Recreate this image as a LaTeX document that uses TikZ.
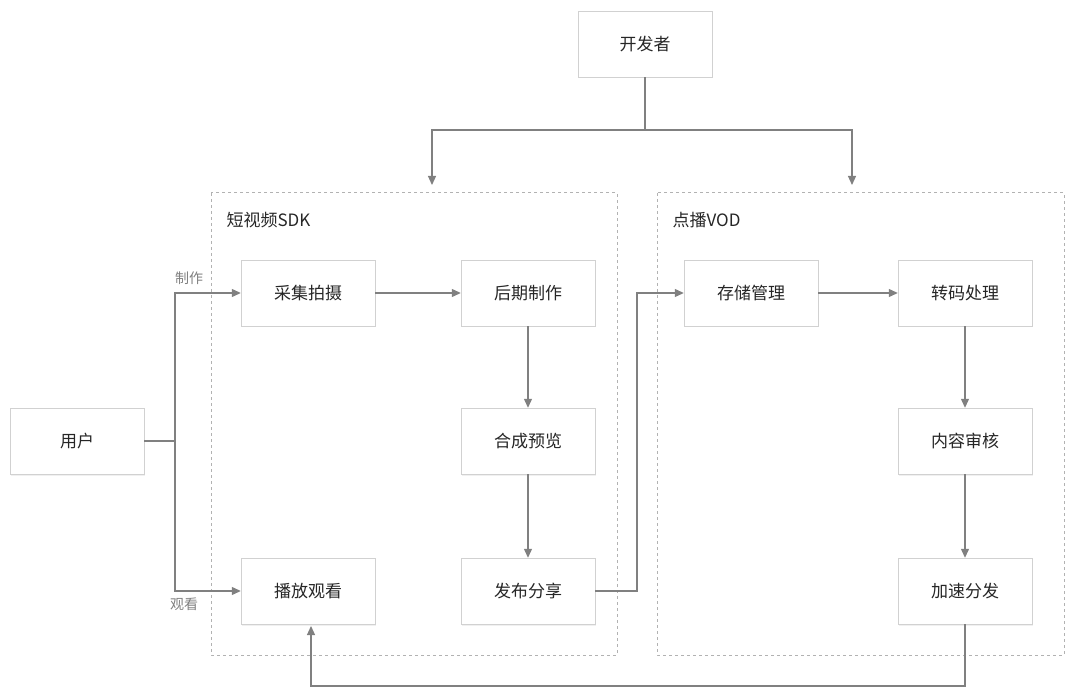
\documentclass[tikz,border=0pt]{standalone}
\usepackage{fontspec}
\setmainfont{Noto Sans CJK SC}
\usetikzlibrary{arrows.meta,shadows}
\begin{document}
\begin{tikzpicture}[x=1pt,y=-1pt,
  box/.style={draw=black!18,fill=white,minimum width=134pt,minimum height=66pt,font=\fontsize{17}{20}\selectfont,text=black!85,drop shadow={shadow xshift=1pt,shadow yshift=-1.5pt,opacity=0.12}},
  grp/.style={draw=black!30,dashed,line width=1pt},
  arr/.style={draw=black!50,line width=1.2pt,-{Triangle[length=9pt,width=8pt]}},
  ln/.style={draw=black!50,line width=1.2pt},
  lbl/.style={font=\fontsize{14}{16}\selectfont,text=black!50}]
\useasboundingbox (0,0) rectangle (1080,695);
\draw[grp] (211,193) rectangle (617,655);
\draw[grp] (657,193) rectangle (1064,655);
\node[anchor=west,font=\fontsize{17}{20}\selectfont,text=black!85] at (223,220) {短视频SDK};
\node[anchor=west,font=\fontsize{17}{20}\selectfont,text=black!85] at (669,220) {点播VOD};
\node[box] (dev) at (645,44) {开发者};
\node[box] (cj) at (308,293) {采集拍摄};
\node[box] (hq) at (528,293) {后期制作};
\node[box] (hc) at (528,441) {合成预览};
\node[box] (fb) at (528,591) {发布分享};
\node[box] (bf) at (308,591) {播放观看};
\node[box] (cc) at (751,293) {存储管理};
\node[box] (zm) at (965,293) {转码处理};
\node[box] (nr) at (965,441) {内容审核};
\node[box] (js) at (965,591) {加速分发};
\node[box] (user) at (77,441) {用户};
\coordinate (d1) at (432,185);
\coordinate (d2) at (852,185);
\draw[ln] (dev.south) -- (645,130) -| (432,180);
\draw[arr] (432,170) -- (d1);
\draw[ln] (645,130) -| (852,180);
\draw[arr] (852,170) -- (d2);
\draw[ln] (user.east) -- (175,441);
\draw[arr] (175,441) |- (cj.west);
\draw[arr] (175,441) |- (bf.west);
\node[lbl] at (189,278) {制作};
\node[lbl] at (184,604) {观看};
\draw[arr] (cj) -- (hq);
\draw[arr] (hq) -- (hc);
\draw[arr] (hc) -- (fb);
\draw[arr] (fb.east) -- (637,591) |- (cc.west);
\draw[arr] (cc) -- (zm);
\draw[arr] (zm) -- (nr);
\draw[arr] (nr) -- (js);
\draw[arr] (js.south) -- (965,686) -| (311,626);
\end{tikzpicture}
\end{document}
